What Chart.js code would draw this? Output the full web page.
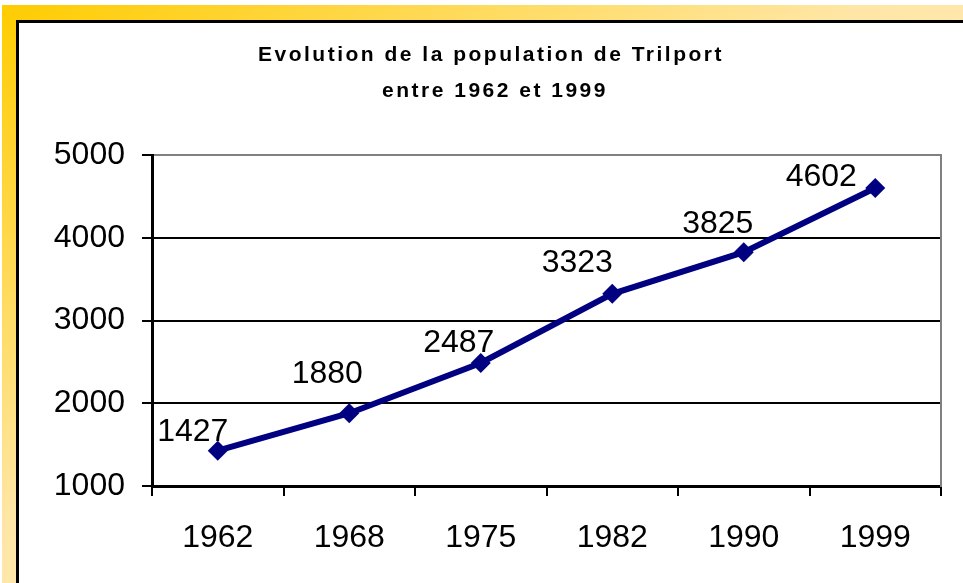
<!DOCTYPE html>
<html>
<head>
<meta charset="utf-8">
<script src="https://cdn.jsdelivr.net/npm/chart.js@4"></script>
<style>
  html, body { margin: 0; padding: 0; background: #fff; overflow: hidden; }
  body { width: 963px; height: 583px; position: relative; }
  .frame {
    position: absolute; left: 2px; top: 5px; right: 0; bottom: 0;
    background: linear-gradient(to bottom right, #ffcc00 0%, #ffe6a6 45%, #fff2d8 100%);
  }
  .card {
    position: absolute; left: 16px; top: 20px; right: -10px; bottom: -10px;
    background: #fff; border-left: 3px solid #000; border-top: 3px solid #000;
  }
  canvas { position: absolute; left: 0; top: 0; }
</style>
</head>
<body>
<div class="frame"></div>
<div class="card"></div>
<canvas id="popChart" width="963" height="583"></canvas>
<script>
const years = ['1962', '1968', '1975', '1982', '1990', '1999'];
const population = [1427, 1880, 2487, 3323, 3825, 4602];
const yTicks = [1000, 2000, 3000, 4000, 5000];
const titleLines = ['Evolution de la population de Trilport', 'entre 1962 et 1999'];

// where each value label sits relative to its point (dx, baseline dy)
const labelOffsets = [[-25, -10], [-22, -30], [-22, -11], [-35, -22], [-26, -19], [-54, -2]];

const titlePlugin = {
    id: 'slideTitle',
    afterDraw(chart) {
        const ctx = chart.ctx;
        ctx.save();
        ctx.font = 'bold 21px "Liberation Sans", Arial, sans-serif';
        ctx.fillStyle = '#000';
        ctx.textAlign = 'center';
        ctx.textBaseline = 'alphabetic';
        ctx.letterSpacing = '2.5px';
        ctx.fillText(titleLines[0], 491, 61);
        ctx.fillText(titleLines[1], 495, 97);
        ctx.restore();
    }
};

const valueLabels = {
    id: 'valueLabels',
    afterDatasetsDraw(chart) {
        const ctx = chart.ctx;
        const meta = chart.getDatasetMeta(0);
        ctx.save();
        ctx.font = '32px "Liberation Sans", Arial, sans-serif';
        ctx.fillStyle = '#000';
        ctx.textAlign = 'center';
        ctx.textBaseline = 'alphabetic';
        meta.data.forEach((pt, i) => {
            const off = labelOffsets[i] || [-25, -15];
            ctx.fillText(String(population[i]), pt.x + off[0], pt.y + off[1]);
        });
        ctx.restore();
    }
};

const ctx = document.getElementById('popChart').getContext('2d');
new Chart(ctx, {
    type: 'line',
    data: {
        labels: years,
        datasets: [{
            data: population,
            borderColor: '#000080',
            backgroundColor: '#000080',
            borderWidth: 6,
            pointStyle: 'rectRot',
            pointRadius: 10,
            pointBorderWidth: 0,
            fill: false,
            tension: 0
        }]
    },
    options: {
        responsive: false,
        animation: false,
        layout: {
            autoPadding: false,
            padding: { top: 155, right: 22, bottom: 0, left: 0 }
        },
        plugins: {
            legend: { display: false },
            title: { display: false },
            tooltip: { enabled: false }
        },
        scales: {
            x: {
                type: 'category',
                offset: true,
                afterFit: s => { s.height = 97; },
                grid: {
                    offset: true,
                    drawOnChartArea: false,
                    drawTicks: true,
                    tickLength: 10,
                    lineWidth: 2,
                    color: '#000',
                    tickColor: '#000'
                },
                border: { color: '#000', width: 3 },
                ticks: {
                    color: '#000',
                    font: { family: '"Liberation Sans", Arial, sans-serif', size: 32 },
                    padding: 23,
                    maxRotation: 0,
                    autoSkip: false
                }
            },
            y: {
                min: 1000,
                max: 5000,
                afterBuildTicks: axis => { axis.ticks = yTicks.map(v => ({ value: v })); },
                afterFit: s => { s.width = 152; },
                grid: {
                    drawTicks: true,
                    tickLength: 10,
                    lineWidth: 2,
                    color: c => (c.tick && c.tick.value === 5000 ? '#808080' : '#000'),
                    tickColor: '#000'
                },
                border: { color: '#000', width: 3 },
                ticks: {
                    color: '#000',
                    font: { family: '"Liberation Sans", Arial, sans-serif', size: 32 },
                    padding: 17,
                    callback: v => String(v)
                }
            },
            y2: {
                position: 'right',
                min: 0,
                max: 1,
                afterFit: s => { s.width = 0; },
                grid: { display: false },
                ticks: { display: false },
                border: { color: '#808080', width: 2 }
            }
        }
    },
    plugins: [titlePlugin, valueLabels]
});
</script>
</body>
</html>
